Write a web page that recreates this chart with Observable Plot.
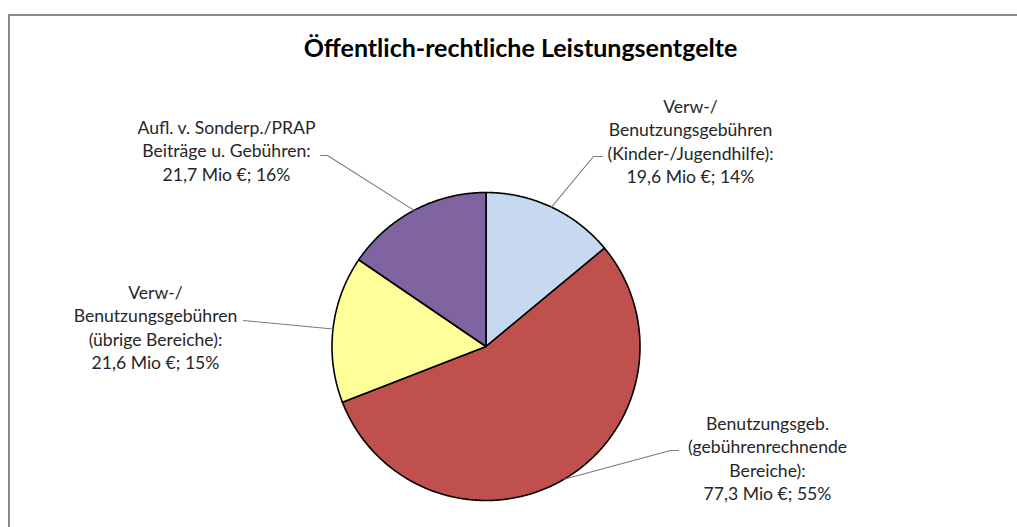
<!DOCTYPE html>
<html><head><meta charset="utf-8">
<script src="https://cdn.jsdelivr.net/npm/d3@7"></script>
<script src="https://cdn.jsdelivr.net/npm/@observablehq/plot@0.6"></script>
<style>
html,body{margin:0;padding:0;background:#fff;overflow:hidden;width:1017px;height:527px}
#frame{position:absolute;left:8px;top:14px;width:1100px;height:600px;border:2px solid #8a8a8a;box-sizing:border-box}
#chart{position:absolute;left:0;top:0}
</style></head><body>
<div id="frame"></div>
<div id="chart"></div>
<script>
// ---- data ----
const title = "Öffentlich-rechtliche Leistungsentgelte";
const categories = [
  "Verw-/Benutzungsgebühren (Kinder-/Jugendhilfe)",
  "Benutzungsgeb. (gebührenrechnende Bereiche)",
  "Verw-/Benutzungsgebühren (übrige Bereiche)",
  "Aufl. v. Sonderp./PRAP Beiträge u. Gebühren"
];
const labelTexts = [
  "Verw-/\nBenutzungsgebühren\n(Kinder-/Jugendhilfe):",
  "Benutzungsgeb.\n(gebührenrechnende\nBereiche):",
  "Verw-/\nBenutzungsgebühren\n(übrige Bereiche):",
  "Aufl. v. Sonderp./PRAP\nBeiträge u. Gebühren:"
];
const values = [19.6, 77.3, 21.6, 21.7];   // Mio €
const percents = [14, 55, 15, 16];
const colors = ["#c6d9f1", "#c0504d", "#ffff99", "#8064a2"];

// ---- layout (pixels) ----
const W = 1017, H = 527, cx = 485.5, cy = 346, R = 154;
const labelCenter = [[690, 140], [767, 457], [155, 326], [226, 149]];
const leaderEnd = [[[593, 156], [602, 156]], [[670, 450], [678, 450]], [[243, 320]], [[327, 155], [320, 155]]];
const ux = px => (px - cx) / R, uy = py => (cy - py) / R;

// ---- geometry via d3.pie ----
const arcs = d3.pie().sort(null).value(d => d)(values);
const slicePts = [];
const leaderPts = [];
arcs.forEach((a, i) => {
  const cat = categories[i];
  slicePts.push({cat, x: 0, y: 0});
  const n = Math.max(2, Math.ceil((a.endAngle - a.startAngle) / (Math.PI / 360)));
  for (let k = 0; k <= n; k++) {
    const t = a.startAngle + (a.endAngle - a.startAngle) * k / n;
    slicePts.push({cat, x: Math.sin(t), y: Math.cos(t)});
  }
  slicePts.push({cat, x: 0, y: 0});
  const m = (a.startAngle + a.endAngle) / 2;
  leaderPts.push({cat, x: Math.sin(m), y: Math.cos(m)});
  leaderEnd[i].forEach(([px, py]) => leaderPts.push({cat, x: ux(px), y: uy(py)}));
});
const fmt = v => v.toFixed(1).replace(".", ",");
const labels = categories.map((c, i) => ({
  cat: c,
  x: ux(labelCenter[i][0]),
  y: uy(labelCenter[i][1]),
  text: labelTexts[i] + "\n" + fmt(values[i]) + " Mio €; " + percents[i] + "%"
}));

const chart = Plot.plot({
  width: W, height: H, margin: 0,
  x: {domain: [ux(0), ux(W)], axis: null},
  y: {domain: [uy(H), uy(0)], axis: null},
  color: {domain: categories, range: colors},
  style: {fontFamily: "Lato, sans-serif", background: "transparent", overflow: "visible"},
  marks: [
    Plot.line(slicePts, {x: "x", y: "y", z: "cat", fill: "cat", stroke: "#000", strokeWidth: 1.6, strokeLinejoin: "round"}),
    Plot.line(leaderPts, {x: "x", y: "y", z: "cat", stroke: "#7a7a7a", strokeWidth: 1.1}),
    Plot.text(labels, {x: "x", y: "y", text: "text", fontSize: 17.6, lineHeight: 1.335, fill: "#262626", textAnchor: "middle"}),
    Plot.text([title], {frameAnchor: "top", dx: 11.5, dy: 48, lineAnchor: "middle", fontSize: 25, fontWeight: "bold", fill: "#000"})
  ]
});
document.getElementById("chart").append(chart);
</script>
</body></html>
